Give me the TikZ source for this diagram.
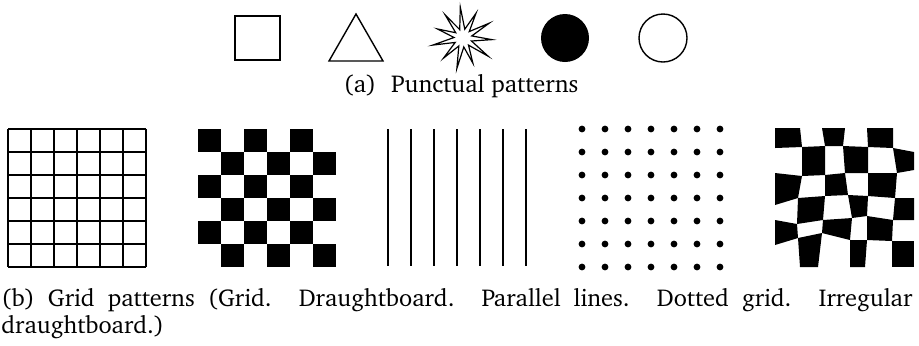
\documentclass[tikz,border=0pt]{standalone}
\usepackage[T1]{fontenc}
\usepackage{charter}
\usetikzlibrary{calc}

\begin{document}
\begin{tikzpicture}[x=0.5pt,y=-0.5pt]
	\useasboundingbox (0,0) rectangle (919,345);
	\coordinate (star) at (463,38);
	\coordinate (grid) at (8,129);
	\coordinate (board) at (198,129);
	\coordinate (lines) at (388,129);
	\coordinate (dots) at (582,129);
	\coordinate (irr) at (775,128);
	
	%punctual patterns
	\draw[line width=0.7pt] (235,16) rectangle (280,60);
	\draw[line width=0.7pt] (329,61) -- (356,14) -- (383,61) -- cycle;
	\draw[line width=0.6pt] ($(star)+(-95:31)$)
		\foreach \a/\r in {-111.4/9,-127.7/29,-144.1/9,-160.5/27,-176.8/9,-193.2/31,-209.5/9,-225.9/28,-242.3/9,-258.6/31,-275/9,-291.4/27,-307.7/9,-324.1/31,-340.5/9,-356.8/29,-373.2/9,-389.5/30,-405.9/9,-422.3/28,-438.6/9}{
			-- ($(star)+(\a:\r)$)
		} -- cycle;
	\fill (565,38) circle (24);
	\draw[line width=0.7pt] (663,38) circle (24);
	\node[anchor=base,inner sep=0,font=\fontsize{12.2}{14}\selectfont] (capa) at (461,92) {(a)\hspace{4pt} Punctual patterns};
	
	%grid
	\foreach \i in {0,1,...,6}{
		\draw[line width=0.6pt] ($(grid)+(23*\i,0)$) -- ++(0,138);
		\draw[line width=0.6pt] ($(grid)+(0,23*\i)$) -- ++(138,0);
	}
	
	%draughtboard
	\foreach \i in {0,1,...,5}{
		\foreach \j in {0,1,...,5}{
			\pgfmathparse{int(mod(\i+\j,2))}
			\ifnum\pgfmathresult=0
				\fill ($(board)+(23*\i,23*\j)$) rectangle ++(23,23);
			\fi
		}
	}
	
	%parallel lines
	\foreach \i in {0,1,...,6}
		\draw[line width=0.8pt] ($(lines)+(23*\i,0)$) -- ++(0,137);
	
	%dotted grid
	\foreach \i in {0,1,...,6}
		\foreach \j in {0,1,...,6}
			\fill ($(dots)+(23*\i,23*\j)$) circle (3.4);
	
	%irregular draughtboard
	\foreach \j/\xa/\xb/\xc/\xd/\xe/\ya/\yb/\yc/\yd/\ye/\yf/\yg in {
		0/25/47/70/92/118/0/0/0/0/0/0/0,
		1/27/50/68/93/118/20/19/18/18/19/20/24,
		2/27/50/70/93/122/45/48/47/45/45/45/42,
		3/23/50/73/93/120/77/70/68/67/68/70/70,
		4/22/48/77/92/118/92/96/92/90/88/92/92,
		5/23/47/75/92/117/117/110/105/112/112/113/113,
		6/25/43/75/90/117/139/139/139/139/139/139/139}{
		\coordinate (v0\j) at ($(irr)+(0,\ya)$);
		\coordinate (v1\j) at ($(irr)+(\xa,\yb)$);
		\coordinate (v2\j) at ($(irr)+(\xb,\yc)$);
		\coordinate (v3\j) at ($(irr)+(\xc,\yd)$);
		\coordinate (v4\j) at ($(irr)+(\xd,\ye)$);
		\coordinate (v5\j) at ($(irr)+(\xe,\yf)$);
		\coordinate (v6\j) at ($(irr)+(139,\yg)$);
	}
	\foreach \i [evaluate=\i as \ii using int(\i+1)] in {0,1,...,5}{
		\foreach \j [evaluate=\j as \jj using int(\j+1)] in {0,1,...,5}{
			\pgfmathparse{int(mod(\i+\j,2))}
			\ifnum\pgfmathresult=0
				\fill (v\i\j) -- (v\ii\j) -- (v\ii\jj) -- (v\i\jj) -- cycle;
			\fi
		}
	}
	
	\node[anchor=north west,inner sep=0,text width=455.5pt,align=justify,font=\fontsize{12.2}{13.5}\selectfont] (capb) at (1,288)
		{(b) Grid patterns (Grid. Draughtboard. Parallel lines. Dotted grid. Irregular\linebreak draughtboard.)};
\end{tikzpicture}
\end{document}
